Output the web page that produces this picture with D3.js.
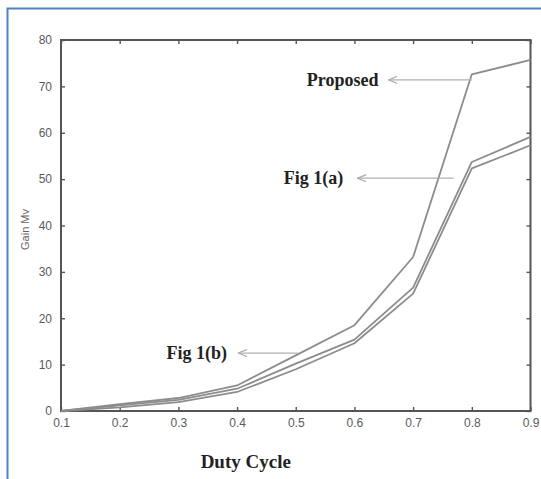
<!DOCTYPE html>
<html>
<head>
<meta charset="utf-8">
<script src="https://cdn.jsdelivr.net/npm/d3@7"></script>
<style>
  body { margin: 0; background: #fff; }
  svg { display: block; }
</style>
</head>
<body>
<div id="chart-area"></div>
<script>
// Data
const dutyCycle = [0.1, 0.2, 0.3, 0.4, 0.5, 0.6, 0.7, 0.8, 0.9]
const proposed = [0, 1.5, 2.8, 5.5, 12, 18.5, 33.2, 72.6, 75.7]
const fig1a = [0, 1.2, 2.4, 4.8, 10.2, 15.4, 26.6, 53.7, 59.1]
const fig1b = [0, 0.8, 1.9, 4.1, 9, 14.6, 25.3, 52.3, 57.3]
const xTicks = [0.1, 0.2, 0.3, 0.4, 0.5, 0.6, 0.7, 0.8, 0.9]
const yTicks = [0, 10, 20, 30, 40, 50, 60, 70, 80]

// annotation: text, y value of the arrow, arrow start / tip and text end (duty cycle)
const labels = [
  { text: "Proposed", y: 71.4, from: 0.80, to: 0.658, tx: 0.641 },
  { text: "Fig 1(a)", y: 50.2, from: 0.769, to: 0.605, tx: 0.581 },
  { text: "Fig 1(b)", y: 12.5, from: 0.504, to: 0.402, tx: 0.383 }
]

const MARGINS = { TOP: 40, BOTTOM: 68, LEFT: 61, RIGHT: 10 }
const W = 541, H = 479
const WIDTH = W - MARGINS.LEFT - MARGINS.RIGHT
const HEIGHT = H - MARGINS.TOP - MARGINS.BOTTOM

const svg = d3.select("#chart-area").append("svg")
  .attr("width", W)
  .attr("height", H)

// blue frame (left and top edges only)
svg.append("path")
  .attr("d", `M7.5,${H} L7.5,8.5 L${W},8.5`)
  .attr("fill", "none")
  .attr("stroke", "#4f81bd")
  .attr("stroke-width", 2)

const g = svg.append("g")
  .attr("transform", `translate(${MARGINS.LEFT}, ${MARGINS.TOP})`)

const x = d3.scaleLinear().domain([0.1, 0.9]).range([0, WIDTH - 0.5])
const y = d3.scaleLinear().domain([0, 80]).range([HEIGHT, 0])

// axes: ticks inside, on all four sides
const tickColor = "#555"
function styleAxis(sel) {
  sel.select(".domain").remove()
  sel.selectAll(".tick line").attr("stroke", tickColor).attr("stroke-width", 1.4)
  sel.selectAll(".tick text")
    .attr("fill", "#5a5a5a")
    .attr("font-family", "Liberation Sans, Arial, sans-serif")
    .attr("font-size", "12px")
}

g.append("g")
  .attr("transform", `translate(0, ${HEIGHT})`)
  .call(d3.axisBottom(x).tickValues(xTicks).tickSize(-4).tickPadding(7).tickFormat(d3.format(".1f")))
  .call(styleAxis)

g.append("g")
  .call(d3.axisLeft(y).tickValues(yTicks).tickSize(-4).tickPadding(9).tickFormat(d => d))
  .call(styleAxis)

g.append("g")
  .call(d3.axisTop(x).tickValues(xTicks).tickSize(-4).tickFormat(""))
  .call(styleAxis)

g.append("g")
  .attr("transform", `translate(${WIDTH - 0.5}, 0)`)
  .call(d3.axisRight(y).tickValues(yTicks).tickSize(-4).tickFormat(""))
  .call(styleAxis)

// plot box
g.append("rect")
  .attr("x", 0).attr("y", 0)
  .attr("width", WIDTH - 0.5).attr("height", HEIGHT)
  .attr("fill", "none")
  .attr("stroke", tickColor)
  .attr("stroke-width", 2)

// y axis label
g.append("text")
  .attr("transform", `translate(-32, ${y(40) + 4}) rotate(-90)`)
  .attr("text-anchor", "middle")
  .attr("fill", "#666")
  .attr("font-family", "Liberation Sans, Arial, sans-serif")
  .attr("font-size", "11px")
  .text("Gain Mv")

// x axis label
g.append("text")
  .attr("x", x(0.5) - 50)
  .attr("y", HEIGHT + 57)
  .attr("text-anchor", "middle")
  .attr("fill", "#222")
  .attr("font-family", "Liberation Serif, Times New Roman, serif")
  .attr("font-weight", "bold")
  .attr("font-size", "19px")
  .text("Duty Cycle")

// series lines
const line = d3.line()
  .x((d, i) => x(dutyCycle[i]))
  .y(d => y(d))

const series = [fig1b, fig1a, proposed]
series.forEach(s => {
  g.append("path")
    .datum(s)
    .attr("fill", "none")
    .attr("stroke", "#8c8c8c")
    .attr("stroke-width", 1.8)
    .attr("stroke-linejoin", "round")
    .attr("d", line)
})

// annotations with arrows
svg.append("defs").append("marker")
  .attr("id", "arrow")
  .attr("viewBox", "0 -5 10 10")
  .attr("refX", 10).attr("refY", 0)
  .attr("markerWidth", 9).attr("markerHeight", 9)
  .attr("markerUnits", "userSpaceOnUse")
  .attr("orient", "auto")
  .append("path")
  .attr("d", "M0,-4 L10,0 L0,4")
  .attr("fill", "none")
  .attr("stroke", "#aaa")
  .attr("stroke-width", 1.3)

labels.forEach(l => {
  g.append("line")
    .attr("x1", x(l.from)).attr("x2", x(l.to))
    .attr("y1", y(l.y)).attr("y2", y(l.y))
    .attr("stroke", "#b0b0b0")
    .attr("stroke-width", 1.3)
    .attr("marker-end", "url(#arrow)")

  g.append("text")
    .attr("x", x(l.tx))
    .attr("y", y(l.y) + 6)
    .attr("text-anchor", "end")
    .attr("fill", "#222")
    .attr("font-family", "Liberation Serif, Times New Roman, serif")
    .attr("font-weight", "bold")
    .attr("font-size", "18px")
    .text(l.text)
})
</script>
</body>
</html>
